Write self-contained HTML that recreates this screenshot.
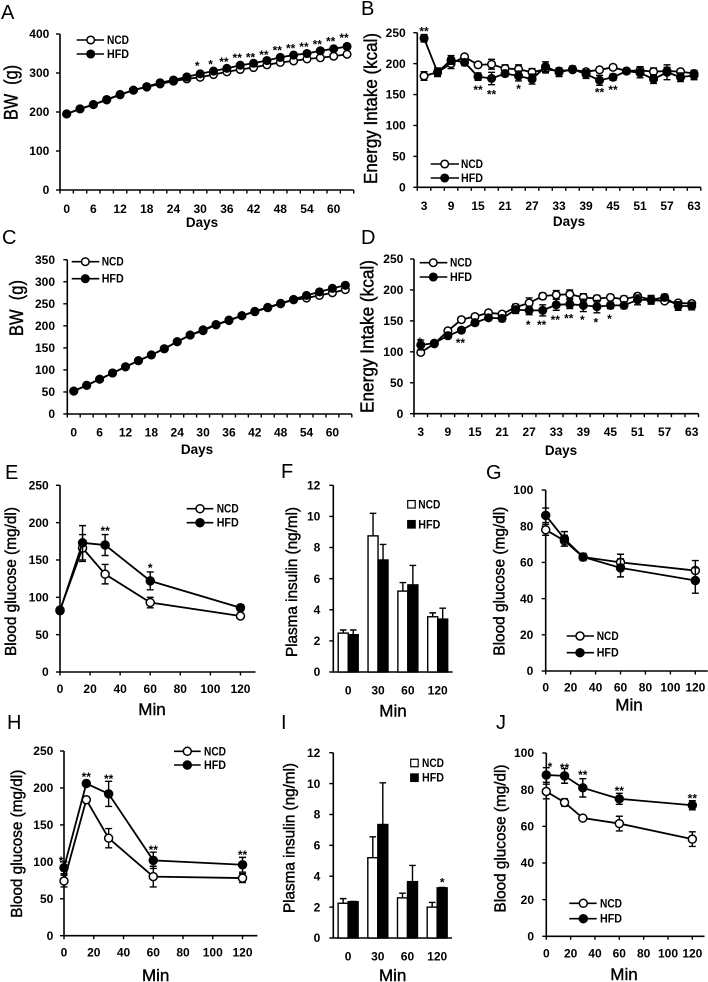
<!DOCTYPE html>
<html lang="en">
<head>
<meta charset="utf-8">
<title>Body weight, energy intake, glucose and insulin panels</title>
<style>
html,body{margin:0;padding:0;background:#fff}
svg{display:block;font-family:"Liberation Sans",sans-serif;filter:blur(0.3px)}
</style>
</head>
<body>
<svg id="figure" xmlns="http://www.w3.org/2000/svg" width="708" height="982" viewBox="0 0 708 982"></svg>
<script>
/* ---------- data ---------- */
const groupLabels = ['NCD', 'HFD'];

const panelADays = [0,3,6,9,12,15,18,21,24,27,30,33,36,39,42,45,48,51,54,57,60,63];
const panelANcd = [195,208,219,231,244,256,264,272,279,285,289,296,303,309,314,321,327,331,336,339,343,348];
const panelAHfd = [195,208,219,232,245,256,265,275,282,290,298,305,312,320,325,332,340,346,350,357,362,368];
const panelAXLabels = [0,6,12,18,24,30,36,42,48,54,60];
const panelAYTicks = [0,100,200,300,400];
const panelAStarDays = [30,33,36,39,42,45,48,51,54,57,60,63];
const panelAStarMarks = ['*','*','**','**','**','**','**','**','**','**','**','**'];
const panelAStarLevels = [326,330,336,346,348,354,366,370,375,381,389,398];

const panelBDays = [3,6,9,12,15,18,21,24,27,30,33,36,39,42,45,48,51,54,57,60,63];
const panelBNcd = [180,186,200,211,198,199,192,191,186,191,188,190,187,190,194,188,189,187,188,187,184];
const panelBHfd = [241,186,206,202,179,176,184,180,175,195,186,191,183,173,178,188,185,175,186,178,181];
const panelBNcdErr = [7,6,8,4,4,8,6,7,6,6,4,4,4,4,4,4,6,6,6,4,5];
const panelBHfdErr = [6,7,7,5,6,10,5,8,8,8,7,5,7,8,5,4,8,7,12,7,7];
const panelBXLabels = [3,9,15,21,27,33,39,45,51,57,63];
const panelBYTicks = [0,50,100,150,200,250];
const panelBStarDays = [3,15,18,24,42,45];
const panelBStarMarks = ['**','**','**','*','**','**'];
const panelBStarLevels = [257,162,155,164,158,162];

const panelCDays = [0,3,6,9,12,15,18,21,24,27,30,33,36,39,42,45,48,51,54,57,60,63];
const panelCNcd = [52,65,79,93,107,121,134,148,164,179,189,202,212,223,232,241,250,259,263,269,275,282];
const panelCHfd = [52,65,79,93,107,121,134,148,164,179,191,203,213,223,233,242,251,260,269,277,285,292];
const panelCXLabels = [0,6,12,18,24,30,36,42,48,54,60];
const panelCYTicks = [0,50,100,150,200,250,300,350];

const panelDDays = [3,6,9,12,15,18,21,24,27,30,33,36,39,42,45,48,51,54,57,60,63];
const panelDNcd = [99,113,134,152,157,163,161,172,179,190,192,193,188,186,188,185,190,184,182,179,178];
const panelDHfd = [111,114,126,135,147,155,154,168,167,167,176,177,175,173,175,175,184,184,188,174,174];
const panelDNcdErr = [4,3,4,4,4,4,4,5,8,5,7,7,6,5,4,5,4,6,3,4,4];
const panelDHfdErr = [8,4,4,4,4,4,5,6,7,9,9,7,10,10,5,5,8,7,5,7,6];
const panelDXLabels = [3,9,15,21,27,33,39,45,51,57,63];
const panelDYTicks = [0,50,100,150,200,250];
const panelDStarDays = [3,12,27,30,33,36,39,42,45];
const panelDStarMarks = ['*','**','*','**','**','**','*','*','*'];
const panelDStarLevels = [121,119,148,148,156,159,156,152,158];

const minuteTicks = [0,20,40,60,80,100,120];
const sampleMinutes = [0,15,30,60,120];
const insulinMinutes = ['0','30','60','120'];
const insulinTicks = [0,2,4,6,8,10,12];

const panelENcd = [83,166,131,93,75];
const panelEHfd = [82,173,170,122,86];
const panelENcdErr = [3,18,13,7,3];
const panelEHfdErr = [3,23,14,12,4];
const panelEYTicks = [0,50,100,150,200,250];
const panelEStarX = [30,60];
const panelEStarMarks = ['**','*'];
const panelEStarLevels = [193,143];

const panelFNcd = [2.5,8.75,5.2,3.55];
const panelFHfd = [2.4,7.2,5.6,3.4];
const panelFNcdErr = [0.2,1.45,0.55,0.25];
const panelFHfdErr = [0.3,1,1.25,0.7];

const panelGNcd = [78,72,63,60,55.5];
const panelGHfd = [86,73,63,57,50];
const panelGNcdErr = [3,3,1.5,4.5,5.5];
const panelGHfdErr = [4,4,2,5,7];
const panelGYTicks = [0,20,40,60,80,100];

const panelHNcd = [74,184,132,80,78];
const panelHHfd = [92,206,192,102,96];
const panelHNcdErr = [8,3,13,14,6];
const panelHHfdErr = [8,3,17,11,10];
const panelHYTicks = [0,50,100,150,200,250];
const panelHStarX = [-2,15,30,60,120];
const panelHStarMarks = ['*','**','**','**','**'];
const panelHStarLevels = [105,219,216,120,113];

const panelINcd = [2.25,5.2,2.6,2.0];
const panelIHfd = [2.35,7.35,3.65,3.25];
const panelINcdErr = [0.3,1.35,0.3,0.3];
const panelIHfdErr = [0.02,2.7,1.05,0.02];
const panelIStarCats = ['120'];
const panelIStarMarks = ['*'];
const panelIStarLevels = [3.78];

const panelJNcd = [79,73,64.5,61.5,53];
const panelJHfd = [88,87.5,81,75,71.5];
const panelJNcdErr = [4,2,1,4,4];
const panelJHfdErr = [4,4,5,3,2.5];
const panelJYTicks = [0,20,40,60,80,100];
const panelJStarX = [3,15,30,60,120];
const panelJStarMarks = ['*','**','**','**','**'];
const panelJStarLevels = [94,93.5,89.6,81,76.7];

/* ---------- panel layout ---------- */
const panels = [
 {id:'a',letter:'A',lx:1,ly:19,kind:'category',cats:panelADays,ncd:panelANcd,hfd:panelAHfd,xLabels:panelAXLabels,yTicks:panelAYTicks,yMax:400,
  xL:60,xR:353.7,yTop:34,yBottom:190,yGap:10.7,xBase:213,r:3.8,
  xTitle:'Days',xtx:202,xty:227,yTitle:'BW\u00A0\u00A0(g)',ytx:11,yty:92.5,ytl:55,yts:19,
  starX:panelAStarDays,starMarks:panelAStarMarks,starLevels:panelAStarLevels,starDx:-3,
  legend:{x1:76.7,x2:104,mx:90.7,tx:107,y1:40,y2:54}},
 {id:'b',letter:'B',lx:361,ly:15,kind:'category',cats:panelBDays,ncd:panelBNcd,hfd:panelBHfd,ncdErr:panelBNcdErr,hfdErr:panelBHfdErr,xLabels:panelBXLabels,yTicks:panelBYTicks,yMax:250,
  xL:417.3,xR:700.8,yTop:32.7,yBottom:187.3,yGap:11.6,xBase:210,r:3.8,
  xTitle:'Days',xtx:569,xty:226,yTitle:'Energy Intake (kcal)',ytx:371,yty:108.5,ytl:151,yts:18,
  starX:panelBStarDays,starMarks:panelBStarMarks,starLevels:panelBStarLevels,starDx:0,
  legend:{x1:430.7,x2:459,mx:444.7,tx:461,y1:164,y2:178}},
 {id:'c',letter:'C',lx:2,ly:244,kind:'category',cats:panelCDays,ncd:panelCNcd,hfd:panelCHfd,xLabels:panelCXLabels,yTicks:panelCYTicks,yMax:350,
  xL:67.3,xR:351.8,yTop:259.7,yBottom:414,yGap:12.3,xBase:436.5,r:3.8,
  xTitle:'Days',xtx:197,xty:454,yTitle:'BW\u00A0\u00A0(g)',ytx:16.7,yty:308,ytl:56,yts:19,
  legend:{x1:71.7,x2:99.3,mx:85.3,tx:101.7,y1:261.7,y2:278.7}},
 {id:'d',letter:'D',lx:361,ly:244,kind:'category',cats:panelDDays,ncd:panelDNcd,hfd:panelDHfd,ncdErr:panelDNcdErr,hfdErr:panelDHfdErr,xLabels:panelDXLabels,yTicks:panelDYTicks,yMax:250,
  xL:414,xR:698.5,yTop:259,yBottom:413.7,yGap:10.7,xBase:436,r:3.8,
  xTitle:'Days',xtx:561,xty:455,yTitle:'Energy Intake (kcal)',ytx:367.3,yty:336.5,ytl:153,yts:18,
  starX:panelDStarDays,starMarks:panelDStarMarks,starLevels:panelDStarLevels,starDx:-1,
  legend:{x1:419.7,x2:447.3,mx:433.3,tx:450,y1:262.7,y2:277}},
 {id:'e',letter:'E',lx:5,ly:479,kind:'linear',cats:sampleMinutes,ncd:panelENcd,hfd:panelEHfd,ncdErr:panelENcdErr,hfdErr:panelEHfdErr,xLabels:minuteTicks,yTicks:panelEYTicks,yMax:250,xMax:130,
  xL:60,xR:255.5,yTop:485.3,yBottom:672,yGap:11.3,xBase:693,r:4,
  xTitle:'Min',xtx:152,xty:715,yTitle:'Blood glucose (mg/dl)',ytx:10.7,yty:581.5,ytl:149,yts:15.5,
  starX:panelEStarX,starMarks:panelEStarMarks,starLevels:panelEStarLevels,starDx:0,
  legend:{x1:186.7,x2:213.3,mx:200,tx:216.7,y1:508.7,y2:522.7}},
 {id:'f',letter:'F',lx:281,ly:478,kind:'bar',cats:insulinMinutes,ncd:panelFNcd,hfd:panelFHfd,ncdErr:panelFNcdErr,hfdErr:panelFHfdErr,xLabels:insulinMinutes,yTicks:insulinTicks,yMax:12,
  xL:333.3,xR:452.6,yTop:485.3,yBottom:672,yGap:13,xBase:694.5,
  xTitle:'Min',xtx:393,xty:716.7,yTitle:'Plasma insulin (ng/ml)',ytx:291.7,yty:582,ytl:150,yts:15.5,
  squares:{sx:407.7,sw:7.5,tx:418.3,y1:504.3,y2:524.3}},
 {id:'g',letter:'G',lx:486,ly:479,kind:'linear',cats:sampleMinutes,ncd:panelGNcd,hfd:panelGHfd,ncdErr:panelGNcdErr,hfdErr:panelGHfdErr,xLabels:minuteTicks,yTicks:panelGYTicks,yMax:100,xMax:130,
  xL:545.7,xR:707.8,yTop:490,yBottom:671,yGap:12.4,xBase:691.5,r:4,
  xTitle:'Min',xtx:629,xty:710.7,yTitle:'Blood glucose (mg/dl)',ytx:499,yty:581.2,ytl:149,yts:15.5,
  legend:{x1:566.7,x2:594,mx:580,tx:596.7,y1:636,y2:652.7}},
 {id:'h',letter:'H',lx:7,ly:729,kind:'linear',cats:sampleMinutes,ncd:panelHNcd,hfd:panelHHfd,ncdErr:panelHNcdErr,hfdErr:panelHHfdErr,xLabels:minuteTicks,yTicks:panelHYTicks,yMax:250,xMax:130,
  xL:64,xR:257.4,yTop:751,yBottom:935.7,yGap:10.7,xBase:956.5,r:4,
  xTitle:'Min',xtx:155.7,xty:981,yTitle:'Blood glucose (mg/dl)',ytx:16.7,yty:843.7,ytl:148,yts:15.5,
  starX:panelHStarX,starMarks:panelHStarMarks,starLevels:panelHStarLevels,starDx:0,
  legend:{x1:174,x2:200.7,mx:187.3,tx:204,y1:751.3,y2:765}},
 {id:'i',letter:'I',lx:281,ly:729,kind:'bar',cats:insulinMinutes,ncd:panelINcd,hfd:panelIHfd,ncdErr:panelINcdErr,hfdErr:panelIHfdErr,xLabels:insulinMinutes,yTicks:insulinTicks,yMax:12,
  xL:333.3,xR:452,yTop:752.7,yBottom:938,yGap:13,xBase:960.5,
  xTitle:'Min',xtx:392.7,xty:981,yTitle:'Plasma insulin (ng/ml)',ytx:289,yty:838,ytl:150,yts:15.5,
  starX:panelIStarCats,starMarks:panelIStarMarks,starLevels:panelIStarLevels,starDx:5,
  squares:{sx:410.7,sw:7.5,tx:422,y1:763,y2:777.7}},
 {id:'j',letter:'J',lx:496,ly:729,kind:'linear',cats:sampleMinutes,ncd:panelJNcd,hfd:panelJHfd,ncdErr:panelJNcdErr,hfdErr:panelJHfdErr,xLabels:minuteTicks,yTicks:panelJYTicks,yMax:100,xMax:130,
  xL:546.3,xR:704.5,yTop:753,yBottom:936.3,yGap:12.3,xBase:957.5,r:4,
  xTitle:'Min',xtx:624,xty:980,yTitle:'Blood glucose (mg/dl)',ytx:500,yty:838.5,ytl:148,yts:15.5,
  starX:panelJStarX,starMarks:panelJStarMarks,starLevels:panelJStarLevels,starDx:0,
  legend:{x1:569.3,x2:596.7,mx:583.3,tx:600,y1:903.3,y2:918.7}}
];

/* ---------- drawing ---------- */
const NS = 'http://www.w3.org/2000/svg';
const root = document.getElementById('figure');

function make(parent, tag, attrs, text) {
  const node = document.createElementNS(NS, tag);
  for (const key in attrs) node.setAttribute(key, attrs[key]);
  if (text !== undefined) node.textContent = text;
  parent.appendChild(node);
  return node;
}

function drawSeries(panel, p, key, values, errors, x, y) {
  const group = make(panel, 'g', {});
  
  
  if (errors) {
    values.forEach(function (v, i) {
      const cx = x(p.cats[i]);
      const yHi = y(v + errors[i]);
      const yLo = y(v - errors[i]);
      const err = make(group, 'path', {
        d: 'M' + cx + ' ' + yLo + 'V' + yHi +
           'M' + (cx - 3.5) + ' ' + yHi + 'H' + (cx + 3.5) +
           'M' + (cx - 3.5) + ' ' + yLo + 'H' + (cx + 3.5),
        fill: 'none', stroke: '#000', 'stroke-width': 1.4
      });
      
      
    });
  }
  const points = values.map(function (v, i) { return x(p.cats[i]) + ',' + y(v); }).join(' ');
  const line = make(group, 'polyline', {points: points, fill: 'none', stroke: '#000', 'stroke-width': 1.8});
  
  
  values.forEach(function (v, i) {
    const dot = make(group, 'circle', {
      cx: x(p.cats[i]), cy: y(v), r: p.r,
      fill: key === 'ncd' ? '#fff' : '#000', stroke: '#000', 'stroke-width': 1.5
    });
    
    
  });
}

function drawBars(panel, p, key, values, errors, y, center) {
  const group = make(panel, 'g', {});
  
  
  values.forEach(function (v, i) {
    const c = center(p.cats[i]);
    const left = key === 'ncd' ? c - 10 : c;
    const err = make(group, 'path', {
      d: 'M' + (left + 5) + ' ' + y(v) + 'V' + y(v + errors[i]) +
         'M' + (left + 1.7) + ' ' + y(v + errors[i]) + 'H' + (left + 8.3),
      fill: 'none', stroke: '#000', 'stroke-width': 1.4
    });
    
    
    const bar = make(group, 'rect', {
      x: left, y: y(v), width: 10, height: p.yBottom - y(v),
      fill: key === 'ncd' ? '#fff' : '#000', stroke: '#000', 'stroke-width': 1.4
    });
    
    
  });
}

panels.forEach(function (p) {
  const panel = make(root, 'g', {});
  
  

  const y = function (v) { return p.yBottom - (v / p.yMax) * (p.yBottom - p.yTop); };
  const band = (p.xR - p.xL) / p.cats.length;
  const x = p.kind === 'linear'
    ? function (v) { return p.xL + (v / p.xMax) * (p.xR - p.xL); }
    : function (v) { return p.xL + band * (p.cats.indexOf(v) + 0.5); };

  const letter = make(panel, 'text', {x: p.lx, y: p.ly, 'font-size': 20, fill: '#000'}, p.letter);
  
  

  /* axes */
  const axes = make(panel, 'path', {
    d: 'M' + p.xL + ' ' + p.yTop + 'V' + p.yBottom + 'H' + p.xR,
    fill: 'none', stroke: '#000', 'stroke-width': 1.6
  });
  
  

  p.yTicks.forEach(function (t) {
    const tick = make(panel, 'line', {x1: p.xL - 4, x2: p.xL, y1: y(t), y2: y(t), stroke: '#000', 'stroke-width': 1.4});
    
    
    const label = make(panel, 'text', {x: p.xL - p.yGap, y: y(t) + 4.2, 'text-anchor': 'end', 'font-size': 12, 'font-weight': 'bold', fill: '#000'}, t);
    
    
  });

  if (p.kind === 'category') {
    p.cats.concat([null]).forEach(function (c, i) {
      const tx = p.xL + band * i;
      const tick = make(panel, 'line', {x1: tx, x2: tx, y1: p.yBottom, y2: p.yBottom + 3.5, stroke: '#000', 'stroke-width': 1.4});
      
      
    });
  }
  if (p.kind === 'linear') {
    p.xLabels.forEach(function (t) {
      const tick = make(panel, 'line', {x1: x(t), x2: x(t), y1: p.yBottom, y2: p.yBottom + 3.5, stroke: '#000', 'stroke-width': 1.4});
      
      
    });
  }
  p.xLabels.forEach(function (t) {
    const label = make(panel, 'text', {x: x(t), y: p.xBase, 'text-anchor': 'middle', 'font-size': 12, 'font-weight': 'bold', fill: '#000'}, t);
    
    
  });

  /* titles */
  const isDays = p.xTitle === 'Days';
  const xTitle = make(panel, 'text', {
    x: p.xtx, y: p.xty, 'text-anchor': 'middle',
    'font-size': isDays ? 13.5 : 17,
    'font-weight': isDays ? 'bold' : 'normal',
    fill: '#000', stroke: isDays ? 'none' : '#000', 'stroke-width': 0.4
  }, p.xTitle);
  
  

  const yBaseX = p.ytx + p.yts * 0.34;
  const yTitle = make(panel, 'text', {
    transform: 'translate(' + yBaseX + ' ' + p.yty + ') rotate(-90)',
    'text-anchor': 'middle', 'font-size': p.yts, fill: '#000', stroke: '#000', 'stroke-width': 0.4,
    textLength: p.ytl, lengthAdjust: 'spacingAndGlyphs'
  }, p.yTitle);
  
  

  /* marks */
  if (p.kind === 'bar') {
    drawBars(panel, p, 'ncd', p.ncd, p.ncdErr, y, x);
    drawBars(panel, p, 'hfd', p.hfd, p.hfdErr, y, x);
  } else {
    drawSeries(panel, p, 'ncd', p.ncd, p.ncdErr, x, y);
    drawSeries(panel, p, 'hfd', p.hfd, p.hfdErr, x, y);
  }

  /* significance stars */
  if (p.starX) {
    p.starX.forEach(function (sx, i) {
      const star = make(panel, 'text', {
        x: x(sx) + p.starDx, y: y(p.starLevels[i]) + 7,
        'text-anchor': 'middle', 'font-size': 12, 'font-weight': 'bold', fill: '#000'
      }, p.starMarks[i]);
      
      
    });
  }

  /* legends */
  if (p.legend) {
    const L = p.legend;
    groupLabels.forEach(function (name, i) {
      const rowY = i === 0 ? L.y1 : L.y2;
      const entry = make(panel, 'g', {});
      
      
      make(entry, 'line', {x1: L.x1, x2: L.x2, y1: rowY, y2: rowY, stroke: '#000', 'stroke-width': 1.6});
      make(entry, 'circle', {cx: L.mx, cy: rowY, r: p.r, fill: i === 0 ? '#fff' : '#000', stroke: '#000', 'stroke-width': 1.5});
      make(entry, 'text', {x: L.tx, y: rowY + 4, 'font-size': 11.5, 'font-weight': 'bold', fill: '#000', textLength: 22, lengthAdjust: 'spacingAndGlyphs'}, name);
    });
  }
  if (p.squares) {
    const S = p.squares;
    groupLabels.forEach(function (name, i) {
      const rowY = i === 0 ? S.y1 : S.y2;
      const entry = make(panel, 'g', {});
      
      
      make(entry, 'rect', {x: S.sx, y: rowY - S.sw / 2, width: S.sw, height: S.sw, fill: i === 0 ? '#fff' : '#000', stroke: '#000', 'stroke-width': 1.2});
      make(entry, 'text', {x: S.tx, y: rowY + 4, 'font-size': 11.5, 'font-weight': 'bold', fill: '#000', textLength: 22, lengthAdjust: 'spacingAndGlyphs'}, name);
    });
  }
});
</script>
</body>
</html>
